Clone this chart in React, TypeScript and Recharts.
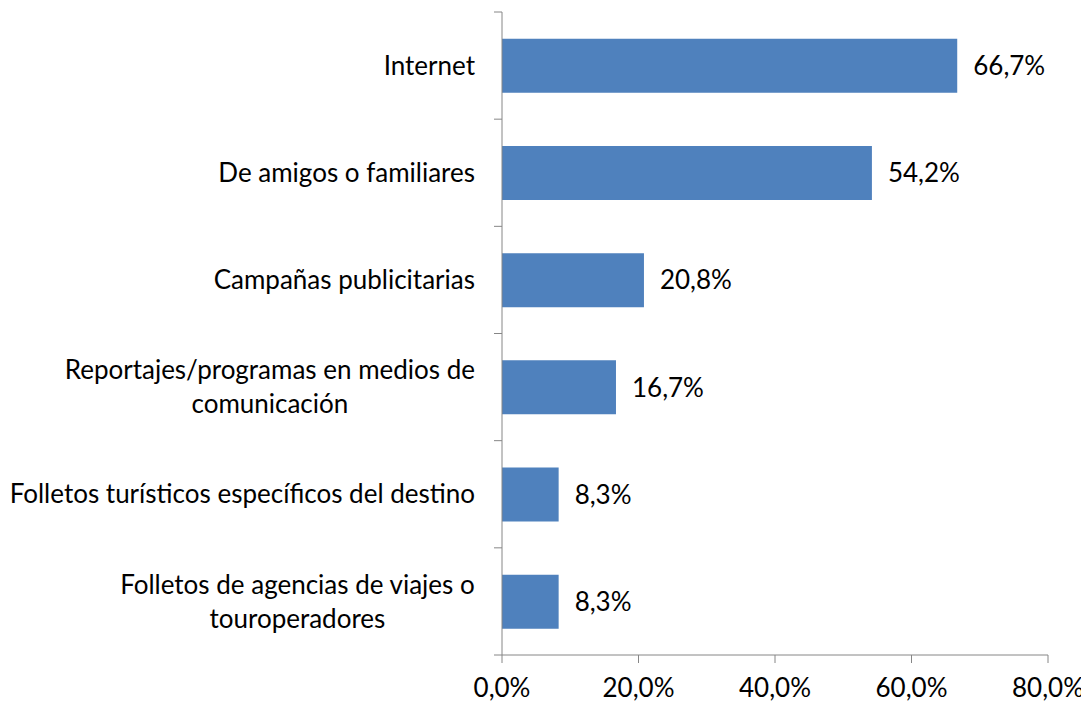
import React from 'react';
import { BarChart, Bar, XAxis, YAxis, LabelList } from 'recharts';

const categories = [
  'Internet',
  'De amigos o familiares',
  'Campañas publicitarias',
  'Reportajes/programas en medios de\ncomunicación',
  'Folletos turísticos específicos del destino',
  'Folletos de agencias de viajes o\ntouroperadores',
];
const values = [66.7, 54.2, 20.8, 16.7, 8.3, 8.3];
const xTicks = [0, 20, 40, 60, 80];

const data = categories.map((name, i) => ({ name, value: values[i] }));

const FONT = 'Lato, "Open Sans", sans-serif';
const FS = 26;
const AXIS = '#868686';
const CHART_H = 696;
const TOP = 4;
const X_AXIS_H = 49;

const fmt = (v: number) => v.toFixed(1).replace('.', ',') + '%';

let ctx: CanvasRenderingContext2D | null = null;
const measure = (s: string) => {
  if (!ctx) ctx = document.createElement('canvas').getContext('2d');
  if (!ctx) return s.length * FS * 0.5;
  ctx.font = `${FS}px Lato`;
  return ctx.measureText(s).width;
};

const CategoryTick = (props: any) => {
  const { x, y, payload, index } = props;
  const band = (CHART_H - TOP - X_AXIS_H) / categories.length;
  const lines = String(payload.value).split('\n');
  const lh = 34;
  const start = -((lines.length - 1) * lh) / 2;
  const right = x - 19;
  const maxW = Math.max(...lines.map(measure));
  const cx = right - maxW / 2;
  const axisX = x + 8;
  return (
    <g>
      <line x1={axisX - 8} x2={axisX} y1={y - band / 2} y2={y - band / 2} stroke={AXIS} />
      {index === categories.length - 1 && (
        <line x1={axisX - 8} x2={axisX} y1={y + band / 2} y2={y + band / 2} stroke={AXIS} />
      )}
      {lines.map((line, i) => (
        <text
          key={i}
          x={cx}
          y={y + start + i * lh}
          dy="0.35em"
          textAnchor="middle"
          fontFamily={FONT}
          fontSize={FS}
          fill="#000"
        >
          {line}
        </text>
      ))}
    </g>
  );
};

export default function App() {
  return (
    <BarChart
      width={1081}
      height={CHART_H}
      data={data}
      layout="vertical"
      margin={{ top: TOP, right: 41, left: 0, bottom: 0 }}
      barCategoryGap="25%"
    >
      <XAxis
        type="number"
        domain={[0, 80]}
        ticks={xTicks}
        tickFormatter={fmt}
        stroke={AXIS}
        tickSize={8}
        height={X_AXIS_H}
        tick={{ fill: '#000', fontSize: FS, fontFamily: FONT, dy: 14 }}
        interval={0}
      />
      <YAxis
        type="category"
        dataKey="name"
        width={494}
        axisLine={{ stroke: AXIS }}
        tickLine={false}
        tick={<CategoryTick />}
        interval={0}
      />
      <Bar dataKey="value" fill="#4F81BD" isAnimationActive={false}>
        <LabelList
          dataKey="value"
          position="right"
          offset={16}
          formatter={(v: any) => fmt(Number(v))}
          style={{ fill: '#000', fontSize: FS, fontFamily: FONT }}
        />
      </Bar>
    </BarChart>
  );
}
